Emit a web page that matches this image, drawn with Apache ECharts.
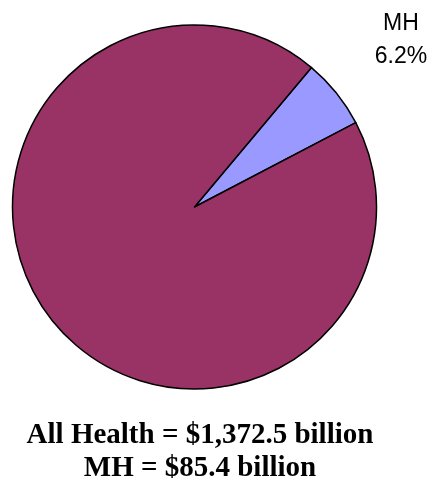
<!DOCTYPE html>
<html>
<head>
<meta charset="utf-8">
<script src="https://cdn.jsdelivr.net/npm/echarts@6/dist/echarts.min.js"></script>
<style>
  html, body { margin: 0; padding: 0; background: #fff; }
  #chart { width: 430px; height: 478px; }
</style>
</head>
<body>
<div id="chart"></div>
<script>
// Spending figures, billions of dollars
const allHealthTotal = 1372.5;
const sliceNames = ['MH', 'Other Health'];
const mhSpending = 85.4;
const sliceValues = [mhSpending, +(allHealthTotal - mhSpending).toFixed(1)];
const sliceColors = ['#9999FF', '#993366'];

function money(v) {
  return '$' + v.toLocaleString('en-US', { minimumFractionDigits: 1, maximumFractionDigits: 1 }) + ' billion';
}

const chart = echarts.init(document.getElementById('chart'), null, { renderer: 'canvas' });

chart.setOption({
  animation: false,
  backgroundColor: '#ffffff',
  title: {
    text: 'All Health = ' + money(allHealthTotal) + '\n' + sliceNames[0] + ' = ' + money(mhSpending),
    left: 195,
    top: 414,
    textAlign: 'center',
    textStyle: {
      fontFamily: 'Liberation Serif',
      fontWeight: 'bold',
      fontSize: 29,
      lineHeight: 33,
      color: '#000'
    }
  },
  series: [{
    type: 'pie',
    center: [194.5, 207],
    radius: 182,
    startAngle: 50,
    clockwise: true,
    percentPrecision: 1,
    avoidLabelOverlap: false,
    itemStyle: { borderColor: '#000', borderWidth: 1.5 },
    label: {
      show: true,
      formatter: '{b}\n{d}%',
      fontFamily: 'Liberation Sans',
      fontSize: 23,
      lineHeight: 33,
      color: '#000',
      align: 'center'
    },
    labelLine: { show: false },
    labelLayout: function () {
      return { x: 401, y: 40, align: 'center', verticalAlign: 'middle' };
    },
    emphasis: { disabled: true },
    data: sliceNames.map(function (name, i) {
      const item = { name: name, value: sliceValues[i], itemStyle: { color: sliceColors[i] } };
      if (i > 0) item.label = { show: false };
      return item;
    })
  }]
});
</script>
</body>
</html>
